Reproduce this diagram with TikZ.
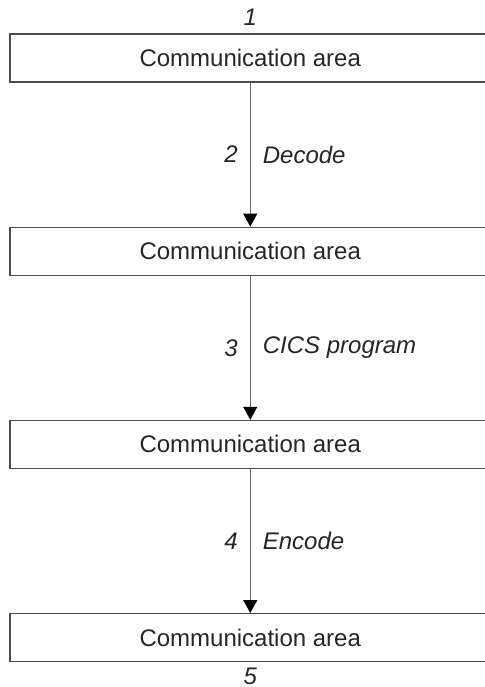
\documentclass[tikz,border=0pt]{standalone}
\usepackage{fontspec}
\setmainfont{Liberation Sans}
\usetikzlibrary{positioning, arrows.meta}
\tikzset{area/.style = {rectangle, draw=black!70, line width=0.6pt, minimum width=240.25pt, minimum height=24pt, inner sep=0pt, font=\fontsize{12}{14}\selectfont, text=black!85},
         flow/.style = {draw=black!60, line width=0.55pt, -{Triangle[width=7pt, length=6.5pt, black]}},
         tag/.style = {font=\fontsize{12}{14}\selectfont\itshape, text=black!85}}

\begin{document}
\begin{tikzpicture}[x=0.5pt, y=-0.5pt, node distance=72pt]
            \useasboundingbox (0,0) rectangle (485,687);

            \node [area] (area1) at (250.25, 58) {Communication area};
            \node [area, below=of area1] (area2) {Communication area};
            \node [area, below=of area2] (area3) {Communication area};
            \node [area, below=of area3] (area4) {Communication area};

            \node [tag, above=0.3pt of area1] (start) {1};
            \node [tag, inner sep=0.4pt, below=2.4pt of area4] (end) {5};

            \draw [flow] (area1) -- node [tag, left=2.7pt] {2} node [tag, right=2.7pt] {Decode} (area2);
            \draw [flow] (area2) -- node [tag, left=2.7pt] {3} node [tag, right=2.7pt] {CICS program} (area3);
            \draw [flow] (area3) -- node [tag, left=2.7pt] {4} node [tag, right=2.7pt] {Encode} (area4);
        \end{tikzpicture}
\end{document}
